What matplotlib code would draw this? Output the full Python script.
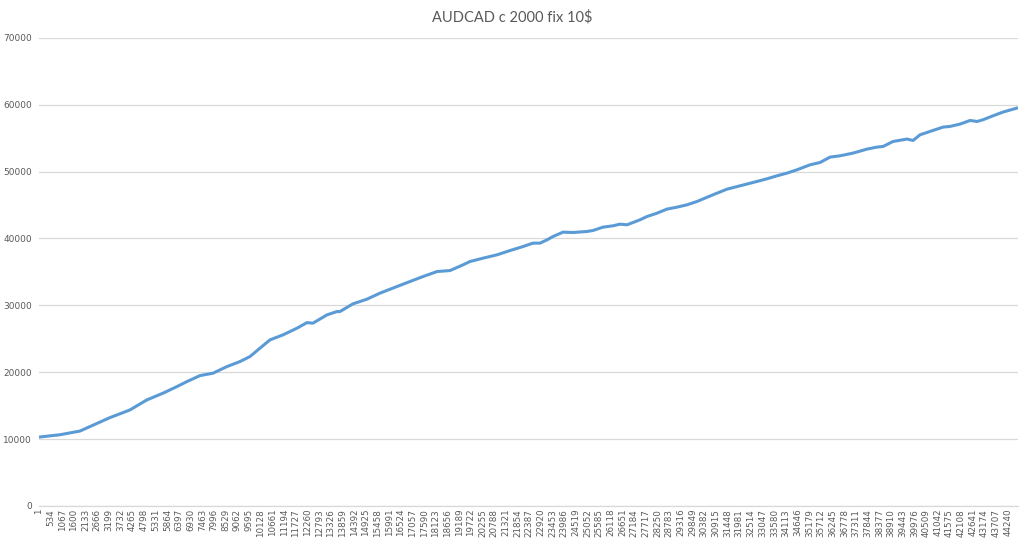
import matplotlib.pyplot as plt
import numpy as np

# точки: номер сделки -> баланс
trade_idx = [1, 960, 1873, 3243, 4157, 4930, 5664, 6303, 6760, 7353,
             7947, 8586, 9180, 9637, 10093, 10550, 11143, 11783, 12240, 12513,
             13152, 13609, 13746, 14339, 14979, 15573, 16350, 16944, 17537, 18177,
             18771, 19364, 19684, 20277, 20917, 21511, 22104, 22561, 22881, 23201,
             23475, 23931, 24388, 25027, 25301, 25758, 26215, 26534, 26854, 27448,
             27767, 28224, 28681, 29137, 29594, 30051, 30782, 31421, 32015, 32608,
             33248, 33704, 34161, 34618, 35212, 35668, 36125, 36582, 37175, 37815,
             38271, 38545, 39002, 39641, 39915, 40235, 40828, 41285, 41605, 42061,
             42518, 42838, 43112, 43569, 44026, 44665]
balance = [10300, 10650, 11200, 13210, 14360, 15860, 16860, 17850, 18600, 19490,
           19850, 20840, 21590, 22340, 23590, 24830, 25580, 26580, 27420, 27330,
           28570, 29070, 29070, 30220, 30920, 31820, 32810, 33560, 34300, 35050,
           35200, 36050, 36550, 37050, 37550, 38190, 38790, 39300, 39300, 39790,
           40290, 40940, 40890, 41040, 41190, 41690, 41890, 42140, 42040, 42790,
           43280, 43780, 44390, 44680, 45030, 45530, 46530, 47370, 47870, 48370,
           48920, 49370, 49770, 50270, 51010, 51360, 52160, 52360, 52760, 53360,
           53660, 53750, 54500, 54860, 54650, 55500, 56150, 56650, 56750, 57100,
           57640, 57490, 57750, 58340, 58900, 59500]

x_ticks = list(range(1, 44241, 533))
y_ticks = [0, 10000, 20000, 30000, 40000, 50000, 60000, 70000]
n_trades = 44700

txt_col = '#595959'
grid_col = '#D9D9D9'
narrow = ['Liberation Sans Narrow', 'DejaVu Sans']

fig = plt.figure(figsize=(10.24, 5.4), dpi=100)
ax = fig.add_axes([0.038, 0.063, 0.956, 0.867])

ax.plot(trade_idx, balance, color='#5B9BD5', lw=2.2, solid_capstyle='round')

ax.set_xlim(1, n_trades)
ax.set_ylim(0, 70000)
ax.set_yticks(y_ticks)
ax.set_yticklabels([str(v) for v in y_ticks], fontsize=6.5, color=txt_col, family=narrow)
ax.set_xticks(x_ticks)
ax.set_xticklabels([str(v) for v in x_ticks], rotation=90, fontsize=6.3,
                   color=txt_col, family=narrow)
ax.tick_params(axis='y', length=0, pad=5)
ax.tick_params(axis='x', length=0, pad=2)

ax.grid(axis='y', color=grid_col, lw=0.9)
ax.set_axisbelow(True)
for s in ['top', 'right', 'left']:
    ax.spines[s].set_visible(False)
ax.spines['bottom'].set_color(grid_col)
ax.spines['bottom'].set_linewidth(0.9)

fig.text(0.5, 0.968, 'AUDCAD c 2000 fix 10$', ha='center', va='center',
         fontsize=10.5, color=txt_col, family=['Lato', 'DejaVu Sans'])

fig.savefig('out.png', dpi=100, facecolor='white')
